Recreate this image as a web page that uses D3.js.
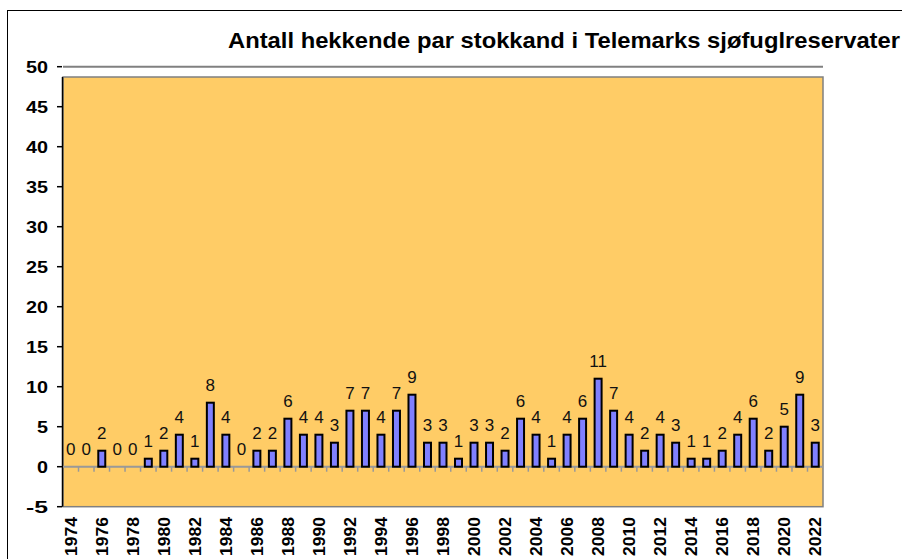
<!DOCTYPE html>
<html>
<head>
<meta charset="utf-8">
<script src="https://cdn.jsdelivr.net/npm/d3@7"></script>
<style>
  body { margin: 0; background: #fff; }
  svg { display: block; font-family: "Liberation Sans", Arial, sans-serif; }
</style>
</head>
<body>
<svg width="902" height="559"></svg>
<script>
// data
var years = d3.range(1974, 2023);
var pairs = [0,0,2,0,0,1,2,4,1,8,4,0,2,2,6,4,4,3,7,7,4,7,9,3,3,1,3,3,2,6,4,1,4,6,11,7,4,2,4,3,1,1,2,4,6,2,5,9,3];
var yTicks = d3.range(-5, 51, 5);
var xLabels = years.filter(function(y) { return (y - 1974) % 2 == 0; });
var title = "Antall hekkende par stokkand i Telemarks sjøfuglreservater";

var svg = d3.select("svg");
var left = 63, right = 823;

var x = d3.scaleBand()
    .domain(years)
    .range([left, right])
    .paddingInner(0.55)
    .paddingOuter(0.275);

var y = d3.scaleLinear()
    .domain([-5, 50])
    .range([506.7, 66.7]);

// outer frame
svg.append("rect")
    .attr("x", 7.5).attr("y", 10.5)
    .attr("width", 1000).attr("height", 1000)
    .attr("fill", "none").attr("stroke", "#000").attr("stroke-width", 1);

// title
svg.append("text")
    .attr("x", 228).attr("y", 48)
    .attr("font-size", "22px")
    .attr("font-weight", "bold")
    .attr("textLength", 672)
    .attr("lengthAdjust", "spacingAndGlyphs")
    .text(title);

// plot area
svg.append("rect")
    .attr("x", left).attr("y", 77)
    .attr("width", right - left).attr("height", y(-5) - 77)
    .attr("fill", "#FFCC66")
    .attr("stroke", "#808080").attr("stroke-width", 1.5);

// gridline at top value
svg.append("line")
    .attr("x1", left).attr("x2", right)
    .attr("y1", y(50)).attr("y2", y(50))
    .attr("stroke", "#808080").attr("stroke-width", 2);

// y axis
var yAxis = svg.append("g");
yAxis.append("line")
    .attr("x1", 62.5).attr("x2", 62.5)
    .attr("y1", 77).attr("y2", y(-5))
    .attr("stroke", "#000").attr("stroke-width", 1.5);
yAxis.selectAll(".tk").data(yTicks).enter().append("line")
    .attr("x1", 57).attr("x2", 62)
    .attr("y1", function(d) { return y(d); })
    .attr("y2", function(d) { return y(d); })
    .attr("stroke", "#000").attr("stroke-width", 1.5);
yAxis.selectAll(".lb").data(yTicks).enter().append("text")
    .attr("x", 48)
    .attr("y", function(d) { return y(d); })
    .attr("dy", "0.36em")
    .attr("text-anchor", "end")
    .attr("font-size", "17px")
    .attr("font-weight", "bold")
    .attr("textLength", function(d) { return String(d).length * 11; })
    .attr("lengthAdjust", "spacingAndGlyphs")
    .text(function(d) { return d; });

// x axis
var step = x.step();
svg.append("line")
    .attr("x1", left).attr("x2", right)
    .attr("y1", y(0)).attr("y2", y(0))
    .attr("stroke", "#999").attr("stroke-width", 2);
svg.selectAll(".xt").data(years.slice(1)).enter().append("line")
    .attr("x1", function(d) { return x(d) - step * 0.275; })
    .attr("x2", function(d) { return x(d) - step * 0.275; })
    .attr("y1", y(0)).attr("y2", y(0) + 5)
    .attr("stroke", "#999").attr("stroke-width", 1.5);

// year labels (shortened a little so they stay inside the picture)
svg.selectAll(".xl").data(xLabels).enter().append("text")
    .attr("transform", function(d) {
      return "translate(" + (x(d) + x.bandwidth() / 2) + ",517) rotate(-90)";
    })
    .attr("dy", "0.36em")
    .attr("text-anchor", "end")
    .attr("font-size", "17px")
    .attr("font-weight", "bold")
    .attr("textLength", 39)
    .attr("lengthAdjust", "spacingAndGlyphs")
    .text(function(d) { return d; });

// bars
var data = years.map(function(yr, i) { return {year: yr, v: pairs[i]}; });
svg.selectAll(".bar").data(data.filter(function(d) { return d.v > 0; })).enter().append("rect")
    .attr("x", function(d) { return x(d.year); })
    .attr("y", function(d) { return y(d.v); })
    .attr("width", x.bandwidth())
    .attr("height", function(d) { return y(0) - y(d.v); })
    .attr("fill", "#8080FF")
    .attr("stroke", "#000").attr("stroke-width", 2);

// data labels
svg.selectAll(".val").data(data).enter().append("text")
    .attr("x", function(d) { return x(d.year) + x.bandwidth() / 2; })
    .attr("y", function(d) { return y(d.v) - 12; })
    .attr("text-anchor", "middle")
    .attr("font-size", "17px")
    .attr("fill", "#111")
    .text(function(d) { return d.v; });
</script>
</body>
</html>
